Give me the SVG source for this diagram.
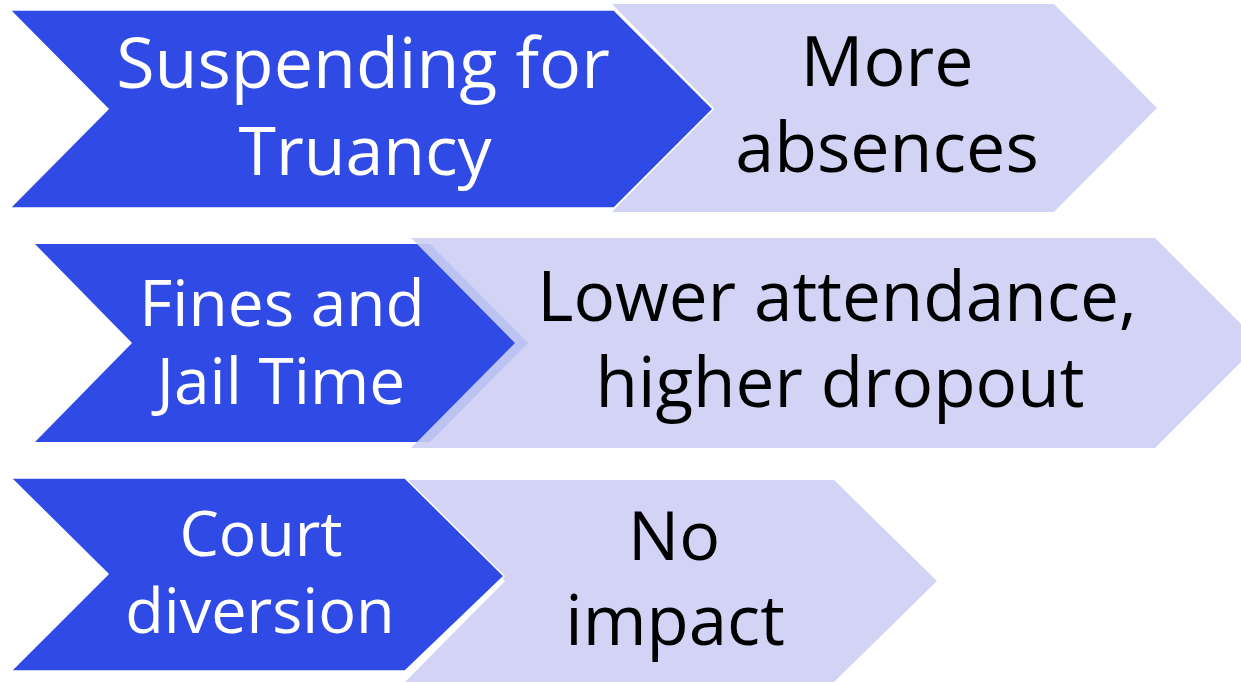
<svg xmlns="http://www.w3.org/2000/svg" width="1241" height="683" viewBox="0 0 1241 683">
<style>
.dark{fill:#304ae6;stroke:#ffffff;stroke-width:1.5;stroke-linejoin:miter}
.light{fill:#d2d3f5}
.band{fill:#bcc2f2}
text{font-family:"Open Sans","Noto Sans","Liberation Sans",sans-serif;text-anchor:middle}
.w{fill:#ffffff}
.b{fill:#000000}
</style>
<rect width="1241" height="683" fill="#ffffff"/>
<g id="connectors"></g>
<g id="row1-result">
<polygon class="light" points="612,4 1054,4 1157,108 1054,212 612,212 714,108"/>
<text class="b" x="887" y="86" font-size="70">More</text>
<text class="b" x="887" y="172" font-size="70">absences</text>
</g>
<g id="row1-cause">
<polygon class="dark" points="10,10 614,10 713,109 614,208 10,208 108,109"/>
<text class="w" x="363" y="88" font-size="70">Suspending for</text>
<text class="w" x="365" y="175" font-size="68">Truancy</text>
</g>
<g id="row2-result">
<polygon class="light" points="411,238 1155,238 1260,343 1155,448 411,448 516,343"/>
<polygon class="band" points="417,244 430,244 528,343 430,442 417,442"/>
<text class="b" x="837" y="321" font-size="69.3">Lower attendance,</text>
<text class="b" x="840" y="407" font-size="69.3">higher dropout</text>
</g>
<g id="row2-cause">
<polygon class="dark" style="stroke:none" points="35,244 417,244 515,343 417,442 35,442 132,343"/>
<text class="w" x="282" y="326" font-size="64">Fines and</text>
<text class="w" x="281" y="404" font-size="64">Jail Time</text>
</g>
<g id="row3-result">
<polygon class="light" points="405,480 834,480 937,581 834,682 405,682 505,581"/>
<text class="b" x="674" y="560" font-size="68">No</text>
<text class="b" x="675" y="645" font-size="69">impact</text>
</g>
<g id="row3-cause">
<polygon class="dark" points="11,478 405,478 504,576 405,671 11,671 108,574"/>
<text class="w" x="261" y="556" font-size="62.5">Court</text>
<text class="w" x="260" y="633" font-size="63">diversion</text>
</g>
</svg>
